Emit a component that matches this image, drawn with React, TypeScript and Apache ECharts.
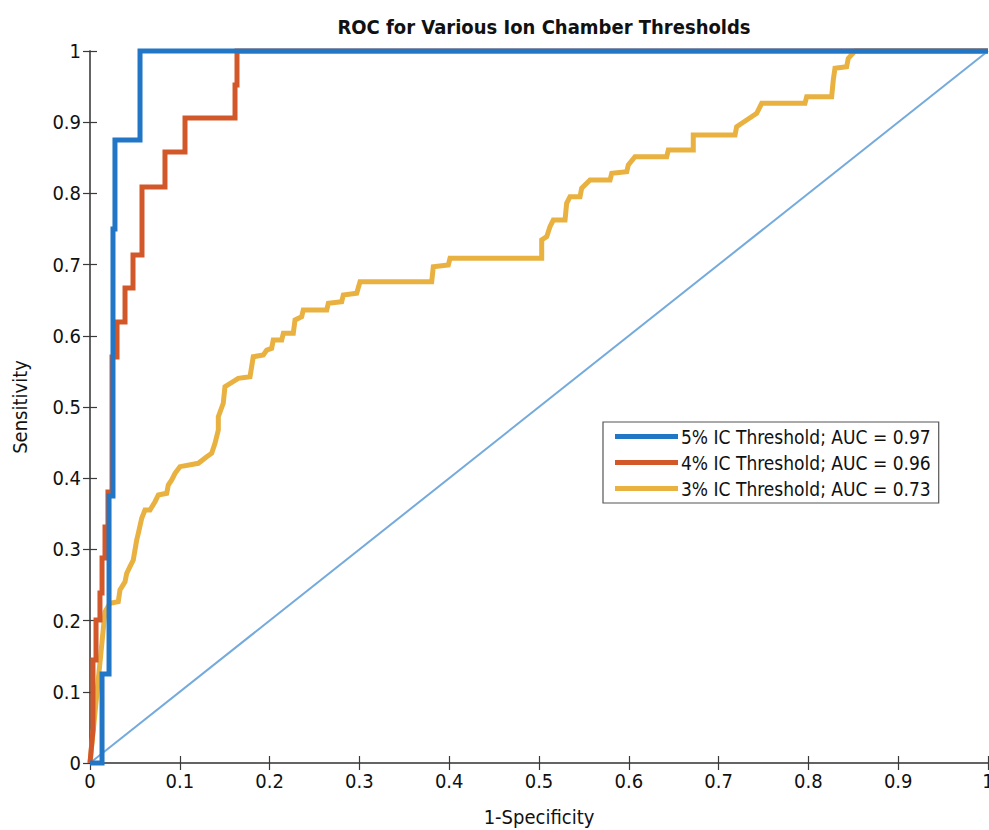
import React, { useEffect, useRef } from "react";
import * as echarts from "echarts";

const titleText = "ROC for Various Ion Chamber Thresholds";
const xName = "1-Specificity";
const yName = "Sensitivity";
const seriesNames = [
  "5% IC Threshold; AUC = 0.97",
  "4% IC Threshold; AUC = 0.96",
  "3% IC Threshold; AUC = 0.73",
];

const roc5: [number, number][] = [
  [0, 0], [0.0134, 0], [0.0134, 0.125], [0.0212, 0.125], [0.0212, 0.375],
  [0.0256, 0.375], [0.0256, 0.75], [0.0278, 0.75], [0.0278, 0.875],
  [0.0557, 0.875], [0.0557, 1], [1, 1],
];

const roc4: [number, number][] = [
  [0, 0], [0.0033, 0.0463], [0.0033, 0.1447], [0.0067, 0.1447], [0.0067, 0.2008],
  [0.0111, 0.2008], [0.0111, 0.2388], [0.0134, 0.2388], [0.0134, 0.2879],
  [0.0167, 0.2879], [0.0167, 0.3315], [0.02, 0.3315], [0.02, 0.3806],
  [0.0245, 0.3806], [0.0245, 0.5702], [0.0301, 0.5702], [0.0301, 0.6194],
  [0.039, 0.6194], [0.039, 0.6671], [0.0479, 0.6671], [0.0479, 0.7135],
  [0.0579, 0.7135], [0.0579, 0.809], [0.0835, 0.809], [0.0835, 0.8581],
  [0.1058, 0.8581], [0.1058, 0.9059], [0.1615, 0.9059], [0.1615, 0.9522],
  [0.1637, 0.9522], [0.1637, 1], [1, 1],
];

const roc3: [number, number][] = [
  [0, 0], [0.0167, 0.2125], [0.0223, 0.2243], [0.0315, 0.2265], [0.0334, 0.243],
  [0.039, 0.2546], [0.0409, 0.2664], [0.0445, 0.2757], [0.0482, 0.2851],
  [0.052, 0.3132], [0.0538, 0.3226], [0.0576, 0.3437], [0.0612, 0.3553],
  [0.0668, 0.3553], [0.0724, 0.367], [0.0761, 0.3764], [0.0854, 0.3788],
  [0.0872, 0.3904], [0.091, 0.3975], [0.0947, 0.4069], [0.1002, 0.4162],
  [0.1206, 0.4209], [0.13, 0.4302], [0.1355, 0.435], [0.1392, 0.449],
  [0.1429, 0.4677], [0.1429, 0.4864], [0.1484, 0.5052], [0.1503, 0.5285],
  [0.1651, 0.5403], [0.1782, 0.5426], [0.1818, 0.5706], [0.193, 0.573],
  [0.1968, 0.58], [0.2023, 0.5824], [0.2041, 0.5941], [0.2135, 0.5941],
  [0.2153, 0.6035], [0.2264, 0.6035], [0.2283, 0.6222], [0.2357, 0.6268],
  [0.2375, 0.6362], [0.2636, 0.6362], [0.2654, 0.6456], [0.2803, 0.6479],
  [0.2821, 0.6573], [0.297, 0.6597], [0.3007, 0.676], [0.3805, 0.676],
  [0.3823, 0.6971], [0.399, 0.6994], [0.4009, 0.7088], [0.503, 0.7088],
  [0.503, 0.7346], [0.5086, 0.7392], [0.5122, 0.7532], [0.5159, 0.7626],
  [0.529, 0.7626], [0.5308, 0.7861], [0.5345, 0.7954], [0.5457, 0.7954],
  [0.5475, 0.8071], [0.5568, 0.8188], [0.5791, 0.8188], [0.581, 0.8282],
  [0.5977, 0.8305], [0.5995, 0.8399], [0.6069, 0.8515], [0.6422, 0.8515],
  [0.644, 0.861], [0.6718, 0.861], [0.6718, 0.882], [0.7183, 0.882],
  [0.7201, 0.8937], [0.7313, 0.9031], [0.7424, 0.9125], [0.748, 0.9265],
  [0.7962, 0.9265], [0.7981, 0.9358], [0.8259, 0.9358], [0.8277, 0.9593],
  [0.8296, 0.9757], [0.8426, 0.978], [0.8444, 0.9897], [0.8519, 1], [1, 1],
];

const chanceLine: [number, number][] = [[0, 0], [1, 1]];

const colors = ["#2276c6", "#d2582a", "#e8b140"];
const chanceColor = "#74aadc";

const FONT = "'DejaVu Sans Condensed', 'DejaVu Sans', sans-serif";

function fmt(v: number) {
  if (v === 0) return "0";
  if (v === 1) return "1";
  return String(Math.round(v * 10) / 10);
}

export default function App() {
  const ref = useRef<HTMLDivElement>(null);
  useEffect(() => {
    if (!ref.current) return;
    const chart = echarts.init(ref.current, undefined, { renderer: "svg" });
    const axisLine = { show: true, lineStyle: { color: "#5a5a5a", width: 1.5 } };
    const tick = { show: true, inside: true, length: 7, lineStyle: { color: "#3a3a3a", width: 1.2 } };
    const mkLine = (name: string, data: [number, number][], color: string, width: number) => ({
      name,
      type: "line",
      data,
      showSymbol: false,
      symbol: "none",
      lineStyle: { color, width, join: "miter", cap: "butt" },
      itemStyle: { color },
      clip: false,
      z: 3,
    });
    chart.setOption({
      animation: false,
      backgroundColor: "#ffffff",
      textStyle: { fontFamily: FONT },
      title: {
        text: titleText,
        left: 539,
        textAlign: "center",
        top: 12,
        textStyle: { fontFamily: FONT, fontSize: 20, fontWeight: "bold", color: "#111" },
      },
      legend: {
        orient: "vertical",
        left: 603,
        top: 422,
        data: seriesNames,
        icon: "rect",
        itemWidth: 63,
        itemHeight: 5,
        itemGap: 5,
        padding: [4, 8, 4, 12],
        borderColor: "#555",
        borderWidth: 1.2,
        backgroundColor: "#fff",
        textStyle: { fontFamily: FONT, fontSize: 19, color: "#111", lineHeight: 21, padding: [0, 0, 0, -2] },
      },
      grid: { left: 90, top: 51, right: 1, bottom: 67, containLabel: false, outerBoundsMode: "none" },
      xAxis: [
        {
          type: "value",
          min: 0,
          max: 1,
          interval: 0.1,
          position: "bottom",
          name: xName,
          nameLocation: "middle",
          nameGap: 44,
          nameTextStyle: { fontFamily: FONT, fontSize: 20, color: "#111" },
          axisLine,
          axisTick: tick,
          splitLine: { show: false },
          axisLabel: { fontFamily: FONT, fontSize: 20, color: "#111", margin: 8, formatter: fmt, showMaxLabel: true },
        },
        {
          type: "value",
          min: 0,
          max: 1,
          interval: 0.1,
          position: "top",
          axisLine,
          axisTick: tick,
          splitLine: { show: false },
          axisLabel: { show: false },
        },
      ],
      yAxis: [
        {
          type: "value",
          min: 0,
          max: 1,
          interval: 0.1,
          position: "left",
          name: yName,
          nameLocation: "middle",
          nameGap: 60,
          nameRotate: 90,
          nameTextStyle: { fontFamily: FONT, fontSize: 20, color: "#111" },
          axisLine,
          axisTick: tick,
          splitLine: { show: false },
          axisLabel: { fontFamily: FONT, fontSize: 20, color: "#111", margin: 9, formatter: fmt },
        },
        {
          type: "value",
          min: 0,
          max: 1,
          interval: 0.1,
          position: "right",
          axisLine,
          axisTick: tick,
          splitLine: { show: false },
          axisLabel: { show: false },
        },
      ],
      series: [
        { ...mkLine("chance", chanceLine, chanceColor, 2), z: 2 },
        mkLine(seriesNames[2], roc3, colors[2], 5),
        mkLine(seriesNames[1], roc4, colors[1], 5),
        mkLine(seriesNames[0], roc5, colors[0], 5),
      ],
    });
    return () => chart.dispose();
  }, []);
  return (
    <div
      ref={ref}
      style={{ position: "fixed", left: 0, top: 0, width: 989, height: 830, background: "#fff" }}
    />
  );
}
